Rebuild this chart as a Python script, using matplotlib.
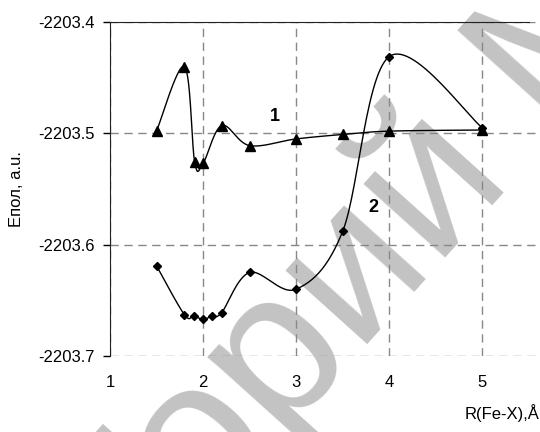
import numpy as np
import matplotlib.pyplot as plt

plt.rcParams['font.family'] = ['Liberation Sans', 'DejaVu Sans']

# Fe-X distance, Å
r1 = [1.5, 1.8, 1.91, 2.0, 2.2, 2.5, 3.0, 3.5, 4.0, 5.0]
e1 = [-2203.498, -2203.440, -2203.526, -2203.527, -2203.493, -2203.511,
      -2203.505, -2203.501, -2203.498, -2203.497]

r2 = [1.5, 1.8, 1.9, 2.0, 2.1, 2.2, 2.5, 3.0, 3.5, 4.0, 5.0]
e2 = [-2203.619, -2203.663, -2203.664, -2203.667, -2203.664, -2203.661,
      -2203.625, -2203.640, -2203.588, -2203.431, -2203.495]

yticks = [-2203.7, -2203.6, -2203.5, -2203.4]
xticks = [1, 2, 3, 4, 5]


# smoothed line like a spreadsheet chart (Catmull-Rom through the points)
def smooth(x, y, n=30):
    p = np.column_stack([x, y]).astype(float)
    p = np.vstack([p[0], p, p[-1]])
    out = []
    t = np.linspace(0, 1, n)[:, None]
    for i in range(1, len(p) - 2):
        p0, p1, p2, p3 = p[i - 1], p[i], p[i + 1], p[i + 2]
        c1 = p1 + (p2 - p0) / 6
        c2 = p2 - (p3 - p1) / 6
        seg = ((1 - t) ** 3) * p1 + 3 * ((1 - t) ** 2) * t * c1 \
            + 3 * (1 - t) * t ** 2 * c2 + t ** 3 * p2
        out.append(seg)
    s = np.vstack(out)
    return s[:, 0], s[:, 1]


fig = plt.figure(figsize=(5.4, 4.32), dpi=100)
ax = fig.add_axes([0.2037, 0.176, 0.7963, 0.773])

for x, y, m, ms in [(r1, e1, '^', 6.5), (r2, e2, 'D', 4.5)]:
    sx, sy = smooth(x, y)
    ax.plot(sx, sy, color='black', lw=1, zorder=3)
    ax.plot(x, y, ls='none', marker=m, ms=ms, color='black', zorder=4)

ax.text(2.77, -2203.485, '1', fontsize=13, fontweight='bold', ha='center', va='center', zorder=5)
ax.text(3.83, -2203.567, '2', fontsize=13, fontweight='bold', ha='center', va='center', zorder=5)

ax.set_xlim(1, 5.62)
ax.set_ylim(-2203.7, -2203.4)
ax.set_xticks(xticks)
ax.set_yticks(yticks)
ax.set_yticklabels([f'{v:.1f}' for v in yticks])
ax.grid(True, color='#888888', ls=(0, (6, 4)), lw=1)

ax.spines['right'].set_visible(False)
ax.spines['bottom'].set_visible(False)
ax.spines['top'].set_bounds(1, 5.5)
ax.spines['top'].set_color('#222222')
ax.spines['left'].set_color('#222222')
ax.tick_params(axis='x', length=0, pad=14, labelsize=12)
ax.tick_params(axis='y', length=5, width=1, direction='out', pad=6, labelsize=12)

ax.set_ylabel('Eпол, a.u.', fontsize=12, labelpad=10)
fig.text(0.998, 0.022, 'R(Fe-X),Å', fontsize=12, ha='right', va='bottom')

# watermark, under the grid and the curves
ax.text(0.67, 0.38, 'Горий М', transform=fig.transFigure, fontsize=150,
        color='#c3c3c3', rotation=48,
        ha='center', va='center', zorder=1, clip_on=False)

fig.savefig('out.png')
